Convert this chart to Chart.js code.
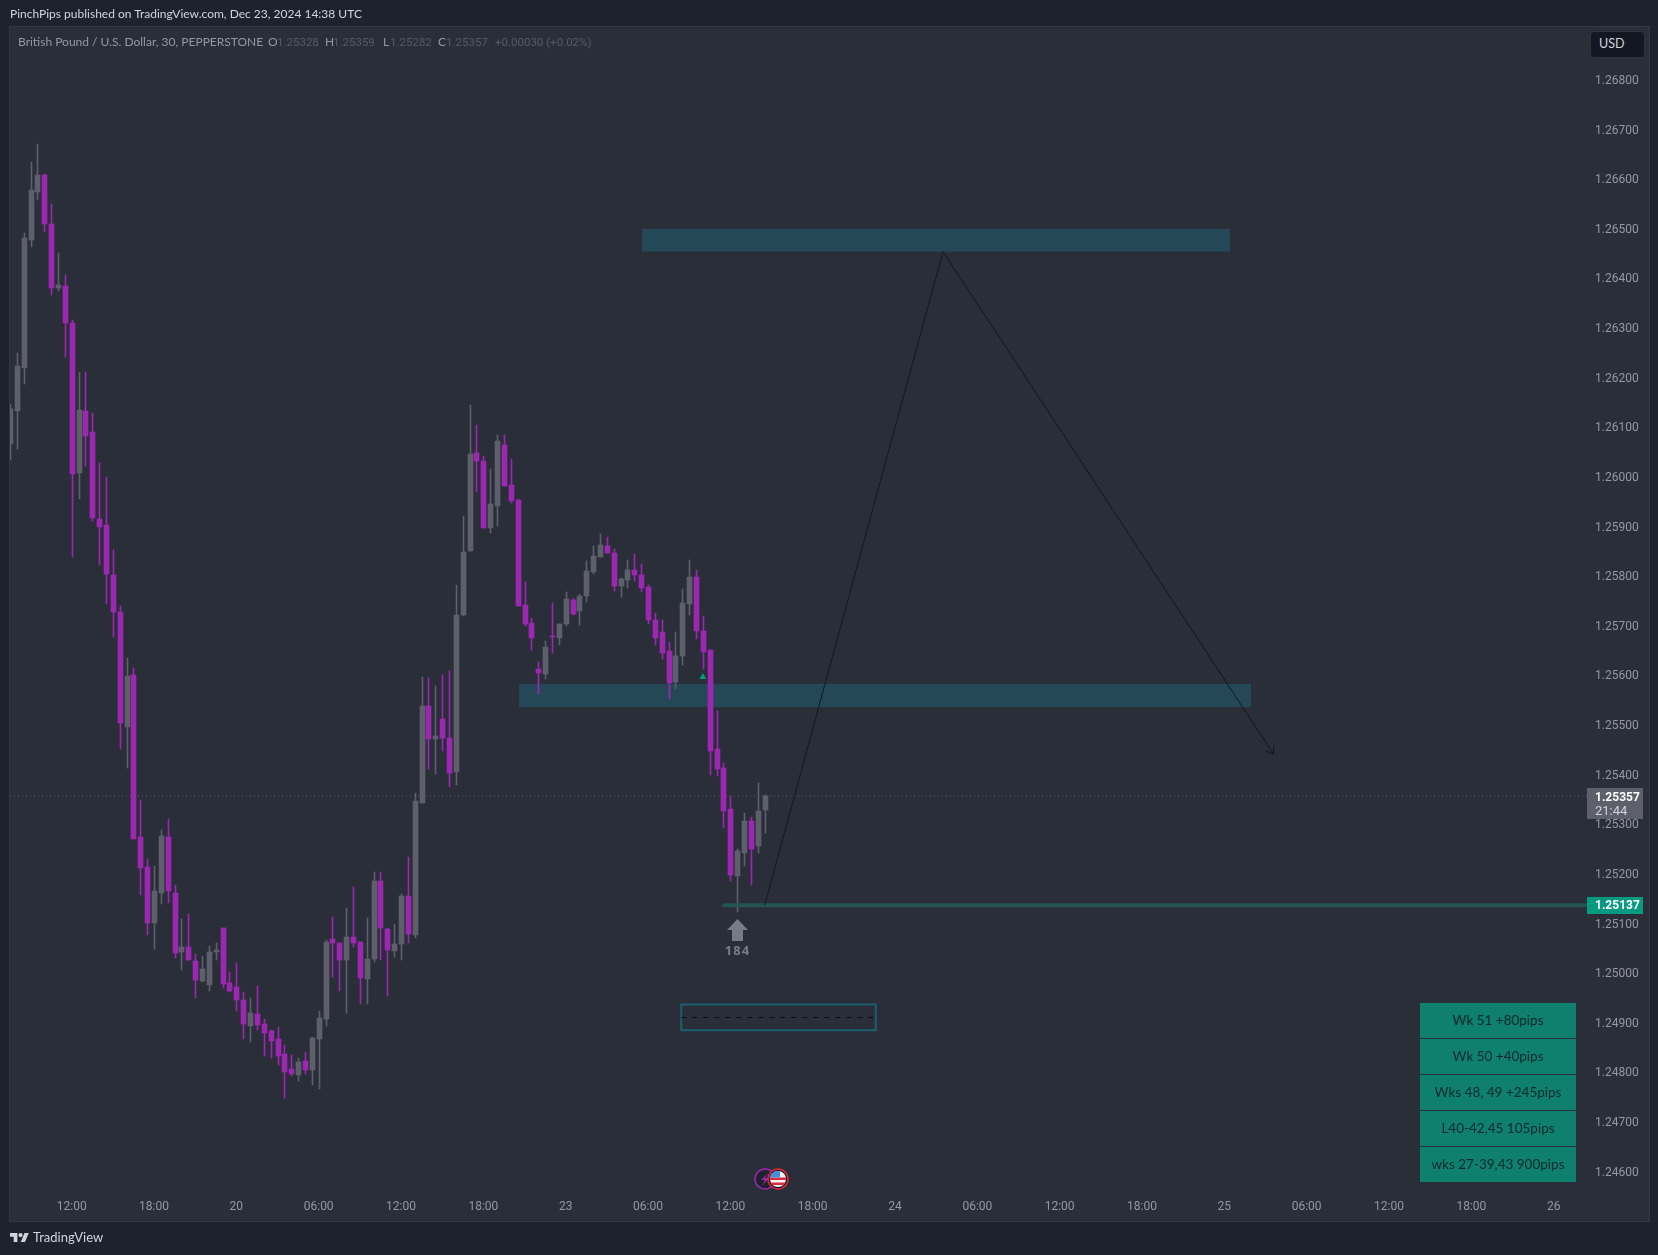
<!DOCTYPE html>
<html>
<head>
<meta charset="utf-8">
<title>GBPUSD</title>
<script src="https://cdn.jsdelivr.net/npm/chart.js@4"></script>
<style>
html, body { margin: 0; padding: 0; width: 1658px; height: 1255px; overflow: hidden; background: #1e222d; }
body { position: relative; font-family: Lato, sans-serif; }
#pane { position: absolute; left: 9px; top: 26px; width: 1639px; height: 1194px; background: #2a2e39; border: 1px solid #333743; }
canvas { position: absolute; left: 0; top: 0; }
.t { position: absolute; white-space: nowrap; line-height: 16px; }
.lbl { color: #9598a1; font-size: 12px; top: 34px; }
.val { color: #565a66; font-size: 11.5px; top: 34px; font-family: Roboto; }
.row { position: absolute; left: 1420px; width: 156px; height: 35px; line-height: 35px; background: #0f7f6e; color: #0b2a2c; font-size: 13.5px; text-align: center; white-space: nowrap; }
.tag { position: absolute; left: 1587px; width: 56px; }
.num { font-family: Roboto; font-size: 12px; }
</style>
</head>
<body>
<div id="pane"></div>
<canvas id="grafica" width="1658" height="1255"></canvas>

<div class="t" style="left:10px;top:6px;color:#d1d4dc;font-size:12px">PinchPips published on TradingView.com, Dec 23, 2024 14:38 UTC</div>
<div class="t lbl" style="left:18px">British Pound / U.S. Dollar, 30, PEPPERSTONE</div>
<div class="t lbl" style="left:268px">O</div><div class="t val" style="left:277px">1.25328</div>
<div class="t lbl" style="left:325px">H</div><div class="t val" style="left:333px">1.25359</div>
<div class="t lbl" style="left:383px">L</div><div class="t val" style="left:390px">1.25282</div>
<div class="t lbl" style="left:438px">C</div><div class="t val" style="left:446px">1.25357</div>
<div class="t val" style="left:495px">+0.00030 (+0.02%)</div>

<div style="position:absolute;left:1590px;top:31px;width:53px;height:25px;background:#131722;border:1px solid #2f3340;border-radius:4px"></div>
<div class="t" style="left:1599px;top:36px;color:#d1d4dc;font-size:12.5px">USD</div>

<div class="tag" style="top:788px;height:31px;background:#5d606b"></div>
<div class="t num" style="left:1595px;top:789px;color:#fff;font-weight:700">1.25357</div>
<div class="t num" style="left:1595px;top:803px;color:#d1d4dc;font-size:13px">21:44</div>
<div class="tag" style="top:897px;height:17px;background:#089981"></div>
<div class="t num" style="left:1595px;top:897px;color:#fff;font-weight:700">1.25137</div>

<div id="tabla"></div>

<svg style="position:absolute;left:754px;top:1167px" width="36" height="24" viewBox="0 0 36 24">
  <circle cx="11" cy="12" r="10" fill="#1e222d" stroke="#9c27b0" stroke-width="1.5"/>
  <path d="M14 6 L7 13 L11 13 L8 19 L15 11 L11 11 Z" fill="#9c27b0"/>
  <circle cx="24" cy="12" r="10" fill="#131722" stroke="#e0283c" stroke-width="1.5"/>
  <clipPath id="flag"><circle cx="24" cy="12" r="8"/></clipPath>
  <g clip-path="url(#flag)">
    <rect x="16" y="4" width="16" height="16" fill="#f5f5f5"/>
    <rect x="16" y="10.5" width="16" height="2.5" fill="#e0283c"/>
    <rect x="16" y="15.5" width="16" height="2.5" fill="#e0283c"/>
    <rect x="16" y="4" width="10" height="6.5" fill="#3f8fe0"/>
  </g>
</svg>

<svg style="position:absolute;left:10px;top:1232.5px" width="19" height="9.5" viewBox="0 4 36 18">
  <path d="M14 22H7V11H0V4h14v18zM28 22h-8l7.5-18h8L28 22z" fill="#d1d4dc"/>
  <circle cx="20" cy="8" r="4" fill="#d1d4dc"/>
</svg>
<div class="t" style="left:33px;top:1229px;color:#d1d4dc;font-size:13px">TradingView</div>

<script>
// velas de 30 min
const opens = [1.26067,1.26133,1.26220,1.26478,1.26574,1.26609,1.26510,1.26381,1.26385,1.26311,
  1.26008,1.26133,1.26090,1.25915,1.25903,1.25802,1.25728,1.25496,1.25601,1.25274,
  1.25214,1.25101,1.25162,1.25274,1.25162,1.25042,1.25053,1.25024,1.24984,1.24976,
  1.25042,1.25091,1.24981,1.24972,1.24946,1.24893,1.24918,1.24898,1.24883,1.24867,
  1.24837,1.24807,1.24795,1.24823,1.24805,1.24867,1.24908,1.25069,1.25061,1.25027,
  1.25073,1.25063,1.24988,1.25029,1.25186,1.25089,1.25045,1.25059,1.25155,1.25077,
  1.25343,1.25538,1.25472,1.25512,1.25474,1.25405,1.25722,1.25851,1.26049,1.26032,
  1.25898,1.25941,1.26064,1.25984,1.25954,1.25742,1.25706,1.25613,1.25603,1.25679,
  1.25676,1.25704,1.25752,1.25730,1.25760,1.25808,1.25839,1.25861,1.25847,1.25780,
  1.25792,1.25813,1.25802,1.25778,1.25712,1.25687,1.25649,1.25587,1.25639,1.25744,
  1.25798,1.25690,1.25651,1.25452,1.25414,1.25331,1.25196,1.25243,1.25307,1.25256,1.25328];
const highs = [1.26148,1.26249,1.26492,1.26634,1.26671,1.26611,1.26550,1.26452,1.26407,1.26316,
  1.26211,1.26211,1.26129,1.26028,1.26000,1.25853,1.25740,1.25635,1.25615,1.25349,
  1.25230,1.25216,1.25289,1.25311,1.25178,1.25109,1.25119,1.25039,1.25035,1.25055,
  1.25061,1.25091,1.25002,1.25021,1.24962,1.24950,1.24974,1.24908,1.24885,1.24891,
  1.24855,1.24835,1.24829,1.24841,1.24871,1.24924,1.25067,1.25113,1.25061,1.25132,
  1.25173,1.25063,1.25112,1.25204,1.25204,1.25091,1.25099,1.25160,1.25234,1.25363,
  1.25597,1.25595,1.25579,1.25601,1.25609,1.25782,1.25921,1.26145,1.26105,1.26042,
  1.26016,1.26085,1.26085,1.26036,1.25956,1.25788,1.25716,1.25627,1.25669,1.25746,
  1.25704,1.25768,1.25756,1.25764,1.25831,1.25861,1.25885,1.25879,1.25854,1.25797,
  1.25833,1.25845,1.25825,1.25782,1.25726,1.25712,1.25667,1.25687,1.25774,1.25833,
  1.25813,1.25720,1.25651,1.25528,1.25424,1.25357,1.25250,1.25323,1.25315,1.25384,1.25359];
const lows = [1.26034,1.26056,1.26187,1.26464,1.26558,1.26493,1.26367,1.26375,1.26241,1.25838,
  1.25956,1.26022,1.25911,1.25823,1.25744,1.25677,1.25452,1.25414,1.25271,1.25158,
  1.25077,1.25049,1.25140,1.25142,1.25031,1.25006,1.25027,1.24950,1.24982,1.24964,
  1.25027,1.24970,1.24962,1.24924,1.24867,1.24861,1.24885,1.24833,1.24829,1.24815,
  1.24749,1.24793,1.24783,1.24797,1.24775,1.24767,1.24893,1.24992,1.24964,1.24920,
  1.25053,1.24938,1.24938,1.25022,1.25027,1.24954,1.25032,1.25027,1.25061,1.25071,
  1.25343,1.25412,1.25402,1.25448,1.25375,1.25379,1.25720,1.25851,1.25969,1.25898,
  1.25887,1.25901,1.25982,1.25948,1.25740,1.25700,1.25651,1.25563,1.25593,1.25646,
  1.25661,1.25700,1.25722,1.25702,1.25748,1.25805,1.25839,1.25847,1.25770,1.25758,
  1.25777,1.25790,1.25768,1.25704,1.25661,1.25633,1.25553,1.25573,1.25621,1.25722,
  1.25674,1.25613,1.25399,1.25397,1.25293,1.25186,1.25123,1.25216,1.25178,1.25243,1.25282];
const closes = [1.26137,1.26223,1.26482,1.26578,1.26609,1.26510,1.26381,1.26387,1.26311,1.26006,
  1.26135,1.26082,1.25918,1.25899,1.25805,1.25728,1.25505,1.25599,1.25271,1.25212,
  1.25101,1.25165,1.25276,1.25165,1.25041,1.25053,1.25027,1.24986,1.25009,1.25042,
  1.25047,1.24978,1.24964,1.24946,1.24898,1.24920,1.24896,1.24880,1.24863,1.24833,
  1.24801,1.24797,1.24821,1.24805,1.24870,1.24910,1.25063,1.25061,1.25027,1.25073,
  1.25061,1.24991,1.25029,1.25186,1.25091,1.25047,1.25059,1.25155,1.25079,1.25347,
  1.25538,1.25472,1.25478,1.25474,1.25404,1.25722,1.25849,1.26046,1.26032,1.25898,
  1.25946,1.26072,1.25982,1.25951,1.25740,1.25704,1.25676,1.25605,1.25657,1.25677,
  1.25704,1.25754,1.25724,1.25760,1.25810,1.25841,1.25863,1.25847,1.25780,1.25795,
  1.25813,1.25802,1.25777,1.25712,1.25676,1.25646,1.25585,1.25639,1.25746,1.25798,
  1.25690,1.25647,1.25448,1.25412,1.25327,1.25198,1.25246,1.25307,1.25250,1.25327,1.25357];

// ejes
const priceTicks = [1.246,1.247,1.248,1.249,1.250,1.251,1.252,1.253,1.254,1.255,1.256,
  1.257,1.258,1.259,1.260,1.261,1.262,1.263,1.264,1.265,1.266,1.267,1.268];
const timeTickBars = [9,21,33,45,57,69,81,93,105,117,129,141,153,165,177,189,201,213,225];
const timeTickLabels = ['12:00','18:00','20','06:00','12:00','18:00','23','06:00','12:00','18:00','24','06:00','12:00','18:00','25','06:00','12:00','18:00','26'];

// dibujos sobre el grafico (en barras y precio)
const zoneBarStart = [92.13, 74.2];
const zoneBarEnd = [177.83, 180.89];
const zonePriceTop = [1.26500, 1.25583];
const zonePriceBottom = [1.26454, 1.25536];
const boxBars = [97.85, 126.2];
const boxPrices = [1.24937, 1.24885];
const boxMidPrice = 1.24911;
const pathBars = [110, 136, 184.14];
const pathPrices = [1.25137, 1.26454, 1.25442];
const lastPrice = 1.25357;
const lowLinePrice = 1.25137;
const lowLineStart = 104.1;
const signalBar = 101;
const signalPrice = 1.25597;
const arrowBar = 106;
const arrowLabel = '184';
const tableRows = ['Wk 51 +80pips','Wk 50 +40pips','Wks 48, 49 +245pips','L40-42,45 105pips','wks 27-39,43 900pips'];

const xMin = 0.01, xMax = 229.86;
const yMin = 1.24563, yMax = 1.269088;

const UP = '#5d606b', DOWN = '#9c27b0';
const candleColors = closes.map((c, i) => (c < opens[i] ? DOWN : UP));

const tabla = document.getElementById('tabla');
tableRows.forEach((txt, i) => {
    const d = document.createElement('div');
    d.className = 'row';
    d.style.top = (1003 + i * 36) + 'px';
    d.textContent = txt;
    tabla.appendChild(d);
});

// zonas antes de las velas, flecha y rectangulo despues
const drawings = {
    id: 'drawings',
    afterDatasetsUpdate(chart) {
        // velas alineadas al pixel, como en la captura
        chart.data.datasets.forEach((ds, i) => {
            if (ds.type !== 'bar') return;
            chart.getDatasetMeta(i).data.forEach(el => {
                el.x = Math.round(el.x) + 0.5;
                el.y = Math.round(el.y);
                el.base = Math.round(el.base);
                if (el.base === el.y) el.base = el.y + 1;
            });
        });
    },
    beforeDatasetsDraw(chart) {
        const { ctx, scales: { x, y } } = chart;
        ctx.save();
        ctx.fillStyle = '#244856';
        zoneBarStart.forEach((b, i) => {
            const px = x.getPixelForValue(b), py = y.getPixelForValue(zonePriceTop[i]);
            ctx.fillRect(px, py, x.getPixelForValue(zoneBarEnd[i]) - px, y.getPixelForValue(zonePriceBottom[i]) - py);
        });
        ctx.restore();
    },
    afterDatasetsDraw(chart) {
        const { ctx, scales: { x, y } } = chart;
        ctx.save();

        // caja con linea punteada
        const bx = x.getPixelForValue(boxBars[0]), by = y.getPixelForValue(boxPrices[0]);
        const bw = x.getPixelForValue(boxBars[1]) - bx, bh = y.getPixelForValue(boxPrices[1]) - by;
        ctx.strokeStyle = '#1d5f6e';
        ctx.lineWidth = 2;
        ctx.strokeRect(bx, by, bw, bh);
        const my = Math.round(y.getPixelForValue(boxMidPrice)) + 0.5;
        ctx.strokeStyle = '#0c0e12';
        ctx.lineWidth = 1;
        ctx.setLineDash([5, 6]);
        ctx.beginPath();
        ctx.moveTo(bx, my);
        ctx.lineTo(bx + bw, my);
        ctx.stroke();
        ctx.setLineDash([]);

        // punta de la flecha del recorrido
        const n = pathBars.length - 1;
        const tx = x.getPixelForValue(pathBars[n]), ty = y.getPixelForValue(pathPrices[n]);
        const ang = Math.atan2(ty - y.getPixelForValue(pathPrices[n - 1]), tx - x.getPixelForValue(pathBars[n - 1]));
        ctx.strokeStyle = '#131722';
        ctx.beginPath();
        ctx.moveTo(tx + 8 * Math.cos(ang + 2.5), ty + 8 * Math.sin(ang + 2.5));
        ctx.lineTo(tx, ty);
        ctx.lineTo(tx + 8 * Math.cos(ang - 2.5), ty + 8 * Math.sin(ang - 2.5));
        ctx.stroke();

        // marca de volumen
        const ax = Math.round(x.getPixelForValue(arrowBar)) + 0.5;
        const ay = y.getPixelForValue(lows[arrowBar]) + 7;
        ctx.fillStyle = '#787b86';
        ctx.beginPath();
        ctx.moveTo(ax, ay);
        ctx.lineTo(ax + 10.5, ay + 11);
        ctx.lineTo(ax + 5.5, ay + 11);
        ctx.lineTo(ax + 5.5, ay + 22);
        ctx.lineTo(ax - 5.5, ay + 22);
        ctx.lineTo(ax - 5.5, ay + 11);
        ctx.lineTo(ax - 10.5, ay + 11);
        ctx.closePath();
        ctx.fill();
        ctx.font = '700 13px "Noto Sans"';
        ctx.letterSpacing = '1px';
        ctx.textAlign = 'center';
        ctx.textBaseline = 'middle';
        ctx.fillText(arrowLabel, ax, ay + 32);
        ctx.restore();
    }
};

new Chart(document.getElementById('grafica'), {
    data: {
        datasets: [
            {
                type: 'line',
                data: [{ x: xMin, y: lastPrice }, { x: xMax, y: lastPrice }],
                borderColor: '#5d606b',
                borderWidth: 1,
                borderDash: [1, 3],
                pointRadius: 0,
                order: 5
            },
            {
                type: 'bar',
                data: highs.map((h, i) => ({ x: i, y: [lows[i], h] })),
                backgroundColor: candleColors,
                barThickness: 1,
                grouped: false,
                order: 4
            },
            {
                type: 'bar',
                data: opens.map((o, i) => ({ x: i, y: [o, closes[i]] })),
                backgroundColor: candleColors,
                barThickness: 5,
                grouped: false,
                order: 3
            },
            {
                type: 'line',
                data: [{ x: lowLineStart, y: lowLinePrice }, { x: xMax, y: lowLinePrice }],
                borderColor: '#225450',
                borderWidth: 4,
                borderCapStyle: 'round',
                pointRadius: 0,
                order: 2
            },
            {
                type: 'line',
                data: pathBars.map((b, i) => ({ x: b, y: pathPrices[i] })),
                borderColor: '#131722',
                borderWidth: 1,
                pointRadius: 0,
                order: 1
            },
            {
                type: 'line',
                data: [{ x: signalBar, y: signalPrice }],
                showLine: false,
                pointStyle: 'triangle',
                pointRadius: 4,
                pointBackgroundColor: '#089981',
                pointBorderWidth: 0,
                order: 0
            }
        ]
    },
    options: {
        responsive: false,
        animation: false,
        devicePixelRatio: 1,
        layout: { padding: { left: 10, top: 26, right: 0, bottom: 0 } },
        plugins: { legend: { display: false }, tooltip: { enabled: false } },
        scales: {
            x: {
                type: 'linear',
                offset: false,
                min: xMin,
                max: xMax,
                grid: { display: false, drawTicks: false },
                border: { display: false },
                afterFit(s) { s.height = 65; },
                afterBuildTicks(s) { s.ticks = timeTickBars.map(v => ({ value: v })); },
                ticks: {
                    autoSkip: false,
                    maxRotation: 0,
                    padding: 10,
                    color: '#9598a1',
                    font: { family: 'Roboto', size: 12 },
                    callback: v => timeTickLabels[timeTickBars.indexOf(v)]
                }
            },
            y: {
                type: 'linear',
                position: 'right',
                min: yMin,
                max: yMax,
                grid: { display: false, drawTicks: false },
                border: { display: false },
                afterFit(s) { s.width = 71; },
                afterBuildTicks(s) { s.ticks = priceTicks.map(v => ({ value: v })); },
                ticks: {
                    autoSkip: false,
                    padding: 8,
                    labelOffset: 1,
                    color: '#9598a1',
                    font: { family: 'Roboto', size: 12 },
                    callback: v => v.toFixed(5)
                }
            }
        }
    },
    plugins: [drawings]
});
</script>
</body>
</html>
